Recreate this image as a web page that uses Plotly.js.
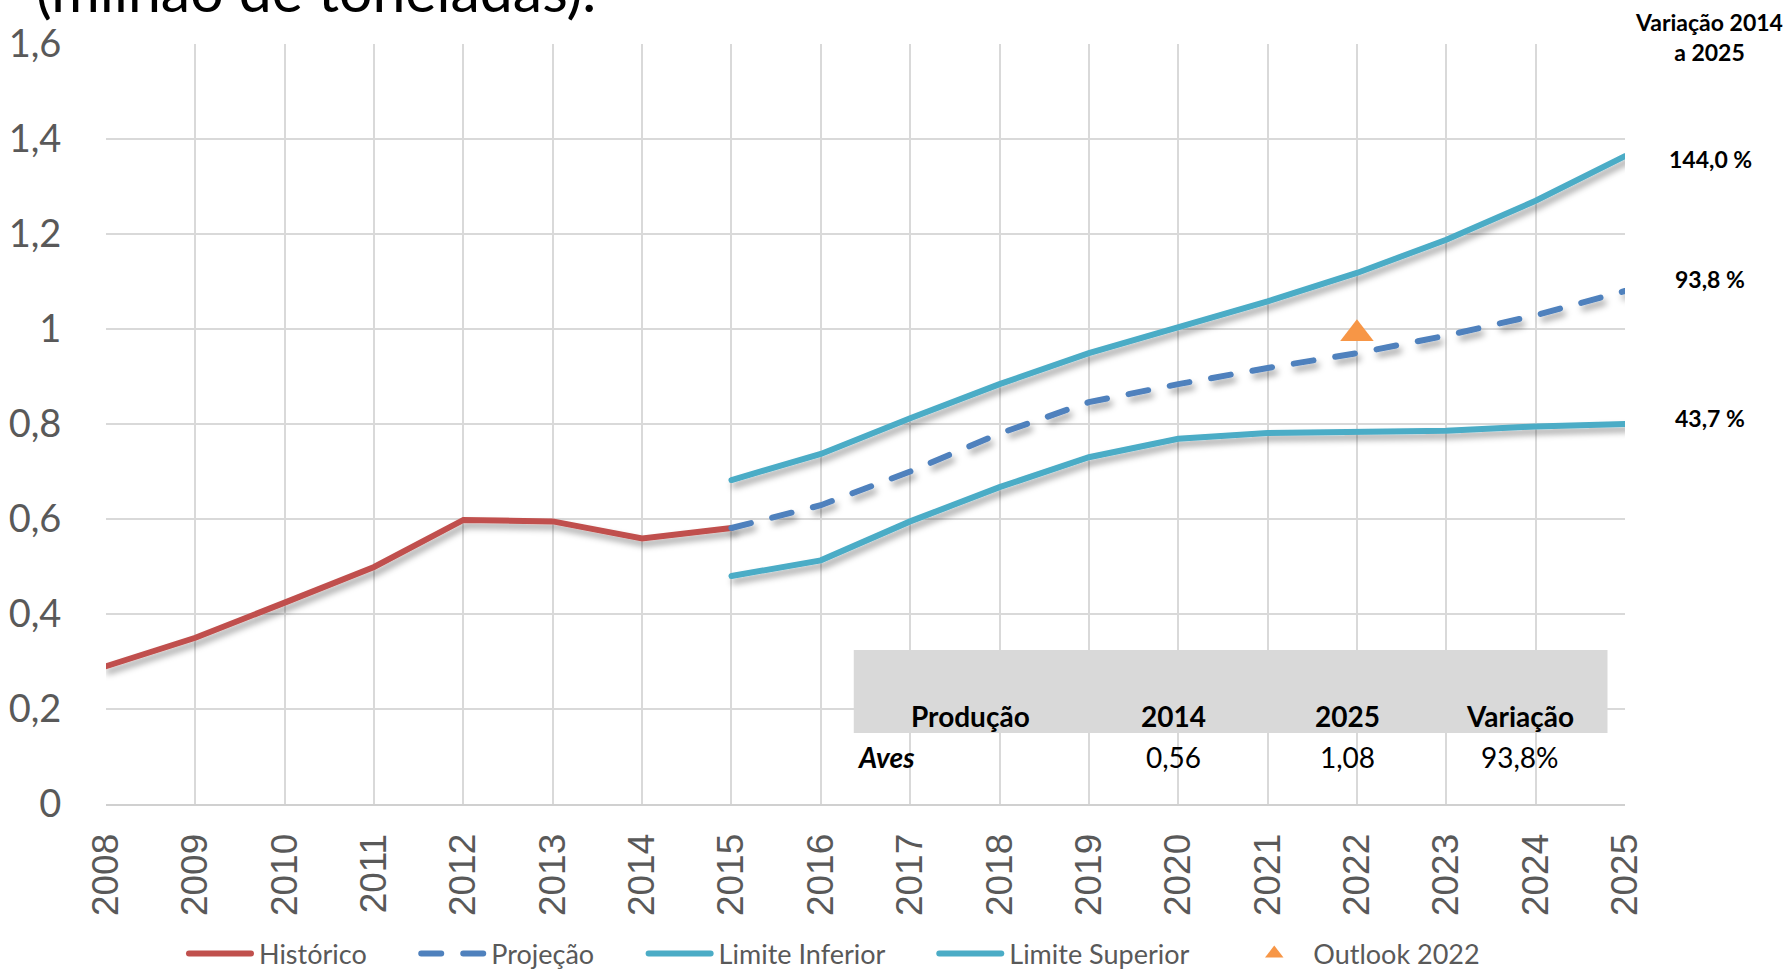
<!DOCTYPE html>
<html>
<head>
<meta charset="utf-8">
<script src="https://cdn.plot.ly/plotly-3.0.1.min.js"></script>
<style>
  html, body { margin: 0; padding: 0; background: #fff; }
  #chart { width: 1791px; height: 974px; }
  .scatterlayer .trace .js-line { filter: url(#sombra); stroke-linecap: round; }
  .legend .legendlines path { stroke-linecap: round; }
</style>
</head>
<body>
<svg width="0" height="0" style="position:absolute">
  <defs>
    <filter id="sombra" x="-20%" y="-30%" width="140%" height="170%">
      <feDropShadow dx="3" dy="5" stdDeviation="3" flood-color="#000" flood-opacity="0.35"/>
    </filter>
  </defs>
</svg>
<div id="chart"></div>
<script>
// anos e series (milhão de toneladas)
var anosHist = [2008, 2009, 2010, 2011, 2012, 2013, 2014, 2015];
var historico = [0.29, 0.35, 0.424, 0.499, 0.598, 0.595, 0.559, 0.581];

var anosProj = [2015, 2016, 2017, 2018, 2019, 2020, 2021, 2022, 2023, 2024, 2025];
var projecao = [0.581, 0.629, 0.70, 0.78, 0.846, 0.884, 0.918, 0.949, 0.986, 1.029, 1.08];
var limiteInferior = [0.48, 0.513, 0.595, 0.667, 0.73, 0.769, 0.781, 0.783, 0.786, 0.795, 0.80];
var limiteSuperior = [0.682, 0.737, 0.812, 0.884, 0.949, 1.002, 1.058, 1.118, 1.188, 1.27, 1.364];

var anoOutlook = [2022];
var outlook = [0.99];

var variacoes = ['144,0 %', '93,8 %', '43,7 %'];
var tabelaCab = ['Produção', '2014', '2025', 'Variação'];
var tabelaLinha = ['Aves', '0,56', '1,08', '93,8%'];

// plot area in pixels
var L = 106, R = 1625.5, T = 44, B = 804;
function px(x) { return (x - L) / (R - L); }
function py(y) { return (B - y) / (B - T); }

// extra room after each legend label
var pad = '\u00a0\u00a0\u00a0\u00a0\u00a0\u00a0';

var traces = [
  {
    x: anosHist, y: historico, name: 'Histórico' + pad, type: 'scatter', mode: 'lines',
    line: { color: '#c0504d', width: 6 }
  },
  {
    x: anosProj, y: projecao, name: 'Projeção' + pad, type: 'scatter', mode: 'lines',
    line: { color: '#4f81bd', width: 6, dash: '20px,22px' }
  },
  {
    x: anosProj, y: limiteInferior, name: 'Limite Inferior' + pad, type: 'scatter', mode: 'lines',
    line: { color: '#4bacc6', width: 6 }
  },
  {
    x: anosProj, y: limiteSuperior, name: 'Limite Superior' + pad, type: 'scatter', mode: 'lines',
    line: { color: '#4bacc6', width: 6 }
  },
  {
    x: anoOutlook, y: outlook, name: 'Outlook 2022', type: 'scatter', mode: 'markers',
    marker: { symbol: 'triangle-up', size: 29, color: '#f79646' }
  }
];

var fnt = 'Lato, "Open Sans", sans-serif';
var annotations = [
  {
    text: '(milhão de toneladas).', xref: 'paper', yref: 'paper',
    x: px(34), y: py(27), xanchor: 'left', yanchor: 'bottom', showarrow: false,
    font: { family: fnt, size: 59, color: '#000' }
  },
  {
    text: '<b>Variação 2014<br>a 2025</b>', xref: 'paper', yref: 'paper',
    x: px(1710), y: py(37), xanchor: 'center', yanchor: 'middle', showarrow: false,
    font: { family: fnt, size: 23, color: '#000' }
  }
];
var varY = [159, 279, 418];
for (var i = 0; i < variacoes.length; i++) {
  annotations.push({
    text: '<b>' + variacoes[i] + '</b>', xref: 'paper', yref: 'paper',
    x: px(1711), y: py(varY[i]), xanchor: 'center', yanchor: 'middle', showarrow: false,
    font: { family: fnt, size: 23, color: '#000' }
  });
}
var colX = [971, 1174, 1348, 1520];
for (var j = 0; j < tabelaCab.length; j++) {
  annotations.push({
    text: '<b>' + tabelaCab[j] + '</b>', xref: 'paper', yref: 'paper',
    x: px(colX[j]), y: py(716), xanchor: 'center', yanchor: 'middle', showarrow: false,
    font: { family: fnt, size: 28, color: '#000' }
  });
  annotations.push({
    text: j === 0 ? '<b><i>' + tabelaLinha[j] + '</i></b>' : tabelaLinha[j],
    xref: 'paper', yref: 'paper',
    x: j === 0 ? px(855) : px(colX[j]), y: py(757),
    xanchor: j === 0 ? 'left' : 'center', yanchor: 'middle', showarrow: false,
    font: { family: fnt, size: 28, color: '#000' }
  });
}

var shapes = [
  { type: 'rect', xref: 'x domain', yref: 'y domain', layer: 'below',
    x0: px(854), x1: px(1608), y0: py(733), y1: py(650),
    fillcolor: '#d9d9d9', line: { width: 0 } },
  { type: 'rect', xref: 'x domain', yref: 'y domain', layer: 'below',
    x0: px(854), x1: px(1608), y0: py(777), y1: py(733),
    fillcolor: '#ffffff', line: { width: 0 } }
];

var layout = {
  width: 1791,
  height: 974,
  separators: ',.',
  paper_bgcolor: '#fff',
  plot_bgcolor: '#fff',
  margin: { l: L, r: 1791 - R, t: T, b: 974 - B, pad: 0, autoexpand: false },
  xaxis: {
    range: [2008, 2025],
    dtick: 1,
    tick0: 2008,
    tickangle: -90,
    showgrid: true,
    gridcolor: '#d9d9d9',
    gridwidth: 1.5,
    zeroline: false,
    showline: true,
    linecolor: '#d0d0d0',
    linewidth: 2,
    ticks: 'outside',
    ticklen: 13,
    tickcolor: 'rgba(0,0,0,0)',
    tickfont: { family: '"Liberation Sans", Arial, sans-serif', size: 37, color: '#595959' }
  },
  yaxis: {
    range: [0, 1.6],
    dtick: 0.2,
    showgrid: true,
    gridcolor: '#d9d9d9',
    gridwidth: 1.5,
    zeroline: false,
    showline: false,
    ticks: 'outside',
    ticklen: 36,
    tickcolor: 'rgba(0,0,0,0)',
    tickfont: { family: fnt, size: 38, color: '#595959' }
  },
  showlegend: true,
  legend: {
    orientation: 'h',
    x: px(181),
    xanchor: 'left',
    y: py(954),
    yanchor: 'middle',
    itemwidth: 68,
    font: { family: fnt, size: 27, color: '#595959' },
    bgcolor: 'rgba(0,0,0,0)'
  },
  annotations: annotations,
  shapes: shapes
};

Plotly.newPlot('chart', traces, layout, { displayModeBar: false }).then(function (gd) {
  var paths = gd.querySelectorAll('.legend .legendlines path');
  paths.forEach(function (p) { p.setAttribute('d', 'M8,0h62'); });
});
</script>
</body>
</html>
